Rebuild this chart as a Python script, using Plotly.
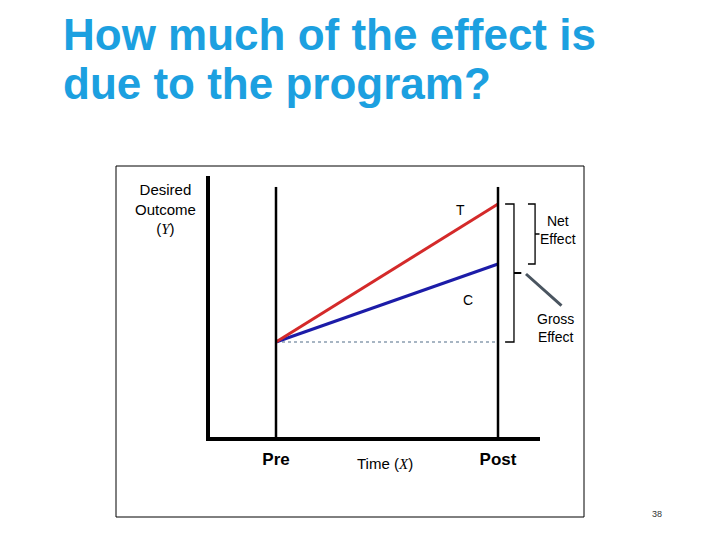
import plotly.graph_objects as go

# ---- data ----
times = ["Pre", "Post"]
time_x = [1, 2]
treatment = [20, 33.8]   # T
control = [20, 27.8]     # C
baseline = [20, 20]      # pre level carried forward

title_lines = ["How much of the effect is", "due to the program?"]
FONT = "Arial, Liberation Sans, sans-serif"

# plot area in pixels (left, right, top, bottom)
L, R, T, B = 210, 540, 176, 437
W, H = 720, 540


def px(x):
    return (x - L) / (R - L)


def py(y):
    return (B - y) / (B - T)


fig = go.Figure()
fig.add_trace(go.Scatter(x=time_x, y=baseline, mode="lines",
                         line=dict(color="#8A9DB0", width=1.5, dash="dot"),
                         hoverinfo="skip"))
fig.add_trace(go.Scatter(x=time_x, y=control, mode="lines",
                         line=dict(color="#1C1CA8", width=3), hoverinfo="skip"))
fig.add_trace(go.Scatter(x=time_x, y=treatment, mode="lines",
                         line=dict(color="#D42A2A", width=3), hoverinfo="skip"))

shapes = []
# Pre / Post verticals
for tx in time_x:
    shapes.append(dict(type="line", xref="x", yref="y domain", x0=tx, x1=tx,
                       y0=0, y1=0.958, line=dict(color="black", width=2.5)))

# brackets (data coords); x in axis units
gx0, gx1, gtick = 2.032, 2.072, 2.105
shapes.append(dict(type="path", xref="x", yref="y",
                   path=f"M {gx0},{treatment[1]} L {gx1},{treatment[1]} L {gx1},{baseline[1]} L {gx0},{baseline[1]}",
                   line=dict(color="black", width=1.3)))
gm = (treatment[1] + baseline[1]) / 2
shapes.append(dict(type="line", xref="x", yref="y", x0=gx1, x1=gtick, y0=gm, y1=gm,
                   line=dict(color="black", width=2)))
nx0, nx1, ntick = 2.135, 2.167, 2.187
shapes.append(dict(type="path", xref="x", yref="y",
                   path=f"M {nx0},{treatment[1]} L {nx1},{treatment[1]} L {nx1},{control[1]} L {nx0},{control[1]}",
                   line=dict(color="black", width=1.3)))
nm = (treatment[1] + control[1]) / 2
shapes.append(dict(type="line", xref="x", yref="y", x0=nx1, x1=ntick, y0=nm, y1=nm,
                   line=dict(color="black", width=1.5)))

# outer frame
shapes.append(dict(type="rect", xref="paper", yref="paper",
                   x0=px(116), x1=px(584), y0=py(517), y1=py(166),
                   line=dict(color="black", width=1)))

ann = []
ann.append(dict(text=title_lines[0], xref="paper", yref="paper", x=px(61), y=py(61),
                xanchor="left", yanchor="bottom", showarrow=False,
                font=dict(family=FONT, size=44, color="#1CA0E0", weight="bold")))
ann.append(dict(text=title_lines[1], xref="paper", yref="paper", x=px(61), y=py(110),
                xanchor="left", yanchor="bottom", showarrow=False,
                font=dict(family=FONT, size=44, color="#1CA0E0", weight="bold")))
txt = dict(family=FONT, size=14, color="black")
C = dict(xanchor="center", yanchor="middle", showarrow=False)
ann.append(dict(text="Desired<br>Outcome<br>(<i style='font-family:Liberation Serif'>Y</i>)",
                xref="paper", yref="paper", x=px(165), y=py(209),
                font=dict(family=FONT, size=15, color="black"), **C))
ann.append(dict(text="T", xref="x", yref="y", x=1.833, y=33.2, font=txt, **C))
ann.append(dict(text="C", xref="x", yref="y", x=1.865, y=24.2, font=txt, **C))
ann.append(dict(text="Net<br>Effect", xref="paper", yref="paper", x=px(558), y=py(230),
                font=txt, **C))
ann.append(dict(text="Gross<br>Effect", xref="paper", yref="paper", x=px(555), y=py(328),
                font=txt, **C))
ann.append(dict(text="", xref="paper", yref="paper", x=px(526), y=py(274),
                ax=37, ay=33, showarrow=True, arrowhead=0, arrowwidth=3,
                arrowcolor="#4A5560"))
ann.append(dict(text="Time (<i style='font-family:Liberation Serif'>X</i>)",
                xref="paper", yref="paper", x=px(385), y=py(463),
                font=dict(family=FONT, size=15, color="black"), **C))
ann.append(dict(text="38", xref="paper", yref="paper", x=px(657), y=py(514),
                font=dict(family=FONT, size=9, color="#333333"), **C))

x_left = 1 - (276 - L) / 222
x_right = x_left + (R - L) / 222
y_bottom = 20 - (B - 342) / 10
y_top = 20 + (342 - T) / 10

fig.update_layout(
    width=W, height=H, margin=dict(l=L, r=W - R, t=T, b=H - B),
    paper_bgcolor="white", plot_bgcolor="white", showlegend=False,
    shapes=shapes, annotations=ann,
    xaxis=dict(range=[x_left, x_right], showgrid=False, zeroline=False,
               showline=True, linecolor="black", linewidth=4,
               tickvals=time_x, ticktext=times, ticks="", ticklabelstandoff=4,
               tickfont=dict(family=FONT, size=17, color="black", weight="bold")),
    yaxis=dict(range=[y_bottom, y_top], showgrid=False, zeroline=False,
               showline=True, linecolor="black", linewidth=4,
               showticklabels=False, ticks=""),
)

fig.write_html("out.html", config={"displayModeBar": False},
               post_script="document.body.style.margin='0';")
